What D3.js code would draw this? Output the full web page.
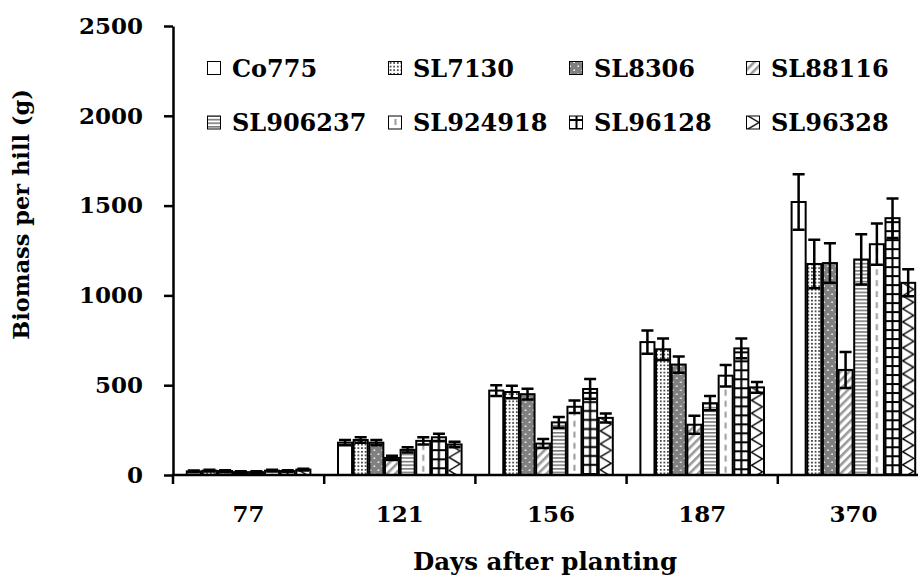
<!DOCTYPE html>
<html>
<head>
<meta charset="utf-8">
<script src="https://cdn.jsdelivr.net/npm/d3@7/dist/d3.min.js"></script>
<style>
  html, body { margin: 0; padding: 0; background: #fff; }
  svg { display: block; }
  text { font-family: "DejaVu Serif", "Liberation Serif", serif; font-weight: bold; fill: #000; }
</style>
</head>
<body>
<svg id="chart" width="918" height="577"></svg>
<script>
// ---------- DATA ----------
const categories = ["77", "121", "156", "187", "370"];
const seriesNames = ["Co775", "SL7130", "SL8306", "SL88116", "SL906237", "SL924918", "SL96128", "SL96328"];
const yTicks = [0, 500, 1000, 1500, 2000, 2500];

const co775    = [20, 180, 470, 740, 1520];
const sl7130   = [24, 195, 462, 700, 1175];
const sl8306   = [22, 180, 450, 615, 1180];
const sl88116  = [16,  95, 175, 280,  585];
const sl906237 = [16, 140, 293, 400, 1200];
const sl924918 = [24, 190, 380, 553, 1285];
const sl96128  = [22, 210, 479, 705, 1430];
const sl96328  = [30, 170, 318, 488, 1070];

const co775Err    = [5, 15, 30, 65, 155];
const sl7130Err   = [5, 15, 35, 60, 135];
const sl8306Err   = [5, 15, 30, 45, 110];
const sl88116Err  = [5, 12, 25, 50, 100];
const sl906237Err = [5, 15, 30, 40, 140];
const sl924918Err = [5, 20, 35, 60, 115];
const sl96128Err  = [5, 20, 55, 55, 110];
const sl96328Err  = [5, 15, 25, 30,  75];

const seriesValues = [co775, sl7130, sl8306, sl88116, sl906237, sl924918, sl96128, sl96328];
const seriesErrors = [co775Err, sl7130Err, sl8306Err, sl88116Err, sl906237Err, sl924918Err, sl96128Err, sl96328Err];

// ---------- LAYOUT ----------
const svg = d3.select("#chart");
const plotLeft = 173, plotBottom = 475, plotTop = 26;
const bandW = 151.2;
const plotRight = plotLeft + bandW * categories.length;

const x = d3.scaleBand().domain(categories).range([plotLeft, plotRight]).padding(0);
const groupGap = 26;
const xs = d3.scaleBand().domain(seriesNames).range([groupGap / 2, x.bandwidth() - groupGap / 2]).padding(0);
const y = d3.scaleLinear().domain([0, 2500]).range([plotBottom, plotTop]);

// ---------- PATTERNS ----------
const defs = svg.append("defs");
const patIds = ["p-white", "p-dots", "p-gray", "p-diag", "p-hlines", "p-vdash", "p-grid", "p-zig"];

// white
// dots (SL7130)
let p = defs.append("pattern").attr("id", "p-dots").attr("patternUnits", "userSpaceOnUse").attr("width", 3.6).attr("height", 3.6);
p.append("rect").attr("width", 3.6).attr("height", 3.6).attr("fill", "#fff");
p.append("rect").attr("x", 1).attr("y", 1).attr("width", 1.5).attr("height", 1.5).attr("fill", "#000");

// gray with white dots (SL8306)
p = defs.append("pattern").attr("id", "p-gray").attr("patternUnits", "userSpaceOnUse").attr("width", 8).attr("height", 8);
p.append("rect").attr("width", 8).attr("height", 8).attr("fill", "#808080");
p.append("rect").attr("x", 1.5).attr("y", 1.5).attr("width", 1.5).attr("height", 1.5).attr("fill", "#fff");
p.append("rect").attr("x", 5.5).attr("y", 5.5).attr("width", 1.5).attr("height", 1.5).attr("fill", "#fff");

// diagonal stripes (SL88116)
p = defs.append("pattern").attr("id", "p-diag").attr("patternUnits", "userSpaceOnUse").attr("width", 6).attr("height", 6)
  .attr("patternTransform", "rotate(45)");
p.append("rect").attr("width", 6).attr("height", 6).attr("fill", "#fff");
p.append("rect").attr("x", 0).attr("width", 2.6).attr("height", 6).attr("fill", "#9a9a9a");

// horizontal lines (SL906237)
p = defs.append("pattern").attr("id", "p-hlines").attr("patternUnits", "userSpaceOnUse").attr("width", 4).attr("height", 3.6);
p.append("rect").attr("width", 4).attr("height", 3.6).attr("fill", "#fff");
p.append("rect").attr("y", 0).attr("width", 4).attr("height", 1.6).attr("fill", "#7a7a7a");

// dashed vertical centre line (SL924918)
p = defs.append("pattern").attr("id", "p-vdash").attr("patternUnits", "objectBoundingBox").attr("width", 1).attr("height", 1);
p.append("rect").attr("width", 40).attr("height", 600).attr("fill", "#fff");
p.append("line").attr("x1", 7).attr("x2", 7).attr("y1", 3).attr("y2", 600)
  .attr("stroke", "#9a9a9a").attr("stroke-width", 2).attr("stroke-dasharray", "6,5");

// grid boxes (SL96128)
p = defs.append("pattern").attr("id", "p-grid").attr("patternUnits", "objectBoundingBox").attr("width", 1).attr("height", 1);
p.append("rect").attr("width", 40).attr("height", 600).attr("fill", "#fff");
p.append("line").attr("x1", 7).attr("x2", 7).attr("y1", 0).attr("y2", 600).attr("stroke", "#000").attr("stroke-width", 2);
p.append("path").attr("d", d3.range(0, 600, 9).map(v => `M0,${v + 4}H40`).join(""))
  .attr("stroke", "#000").attr("stroke-width", 2);

// zigzag (SL96328)
p = defs.append("pattern").attr("id", "p-zig").attr("patternUnits", "objectBoundingBox").attr("width", 1).attr("height", 1);
p.append("rect").attr("width", 40).attr("height", 600).attr("fill", "#fff");
p.append("path").attr("d", "M1.5,0" + d3.range(1, 90).map(i => `L${i % 2 ? 12.5 : 1.5},${i * 6.5}`).join(""))
  .attr("fill", "none").attr("stroke", "#000").attr("stroke-width", 1.4);

const fills = ["#fff", "url(#p-dots)", "url(#p-gray)", "url(#p-diag)", "url(#p-hlines)", "url(#p-vdash)", "url(#p-grid)", "url(#p-zig)"];

// ---------- BARS ----------
const barInset = 0.8;
const groups = svg.append("g").selectAll("g.grp").data(categories).join("g")
  .attr("transform", c => `translate(${x(c)},0)`);

seriesNames.forEach((name, si) => {
  groups.append("rect")
    .attr("x", (c) => xs(name) + barInset)
    .attr("width", xs.bandwidth() - 2 * barInset)
    .attr("y", (c, ci) => y(seriesValues[si][ci]))
    .attr("height", (c, ci) => y(0) - y(seriesValues[si][ci]))
    .attr("fill", fills[si])
    .attr("stroke", "#000")
    .attr("stroke-width", 2);
});

// ---------- ERROR BARS ----------
const capW = 12;
seriesNames.forEach((name, si) => {
  const cx = xs(name) + xs.bandwidth() / 2;
  groups.append("path")
    .attr("d", (c, ci) => {
      const v = seriesValues[si][ci], e = seriesErrors[si][ci];
      const t = y(v + e), b = y(v - e);
      return `M${cx},${t}V${b}M${cx - capW / 2},${t}H${cx + capW / 2}M${cx - capW / 2},${b}H${cx + capW / 2}`;
    })
    .attr("fill", "none").attr("stroke", "#000").attr("stroke-width", 2.5);
});

// ---------- AXES ----------
const yAxis = d3.axisLeft(y).tickValues(yTicks).tickSize(9).tickSizeOuter(0).tickPadding(21).tickFormat(d3.format("d"));
const gy = svg.append("g").attr("transform", `translate(${plotLeft},0)`).call(yAxis);
gy.select(".domain").attr("stroke-width", 2.5);
gy.selectAll(".tick line").attr("stroke-width", 2.5);
gy.selectAll(".tick text").style("font-size", "23px").attr("font-family", null);

// x axis: line, boundary ticks, centred labels
const gx = svg.append("g");
gx.append("line").attr("x1", plotLeft - 1.25).attr("x2", plotRight).attr("y1", plotBottom).attr("y2", plotBottom)
  .attr("stroke", "#000").attr("stroke-width", 2.5);
const boundaries = categories.map(c => x(c)).concat([plotRight]);
gx.selectAll("line.bt").data(boundaries).join("line").attr("class", "bt")
  .attr("x1", d => d).attr("x2", d => d).attr("y1", plotBottom).attr("y2", plotBottom + 9)
  .attr("stroke", "#000").attr("stroke-width", 2.5);
gx.selectAll("text.cl").data(categories).join("text").attr("class", "cl")
  .attr("x", c => x(c) + x.bandwidth() / 2).attr("y", 521.5)
  .attr("text-anchor", "middle").style("font-size", "23px").text(c => c);

// axis titles
svg.append("text").attr("x", 545).attr("y", 570).attr("text-anchor", "middle")
  .style("font-size", "24.5px").text("Days after planting");
svg.append("text").attr("transform", "translate(29,214.5) rotate(-90)").attr("text-anchor", "middle")
  .style("font-size", "22.5px").text("Biomass per hill (g)");

// ---------- LEGEND ----------
const legCols = [207, 388, 569, 746];
const legRows = [76.5, 131];
const legend = svg.append("g");
seriesNames.forEach((name, si) => {
  const lx = legCols[si % 4], ly = legRows[Math.floor(si / 4)];
  legend.append("rect").attr("x", lx + 0.5).attr("y", ly - 15).attr("width", 13).attr("height", 13)
    .attr("fill", fills[si]).attr("stroke", "#000").attr("stroke-width", 1);
  legend.append("text").attr("x", lx + 25).attr("y", ly).style("font-size", "24px").text(name);
});
</script>
</body>
</html>
